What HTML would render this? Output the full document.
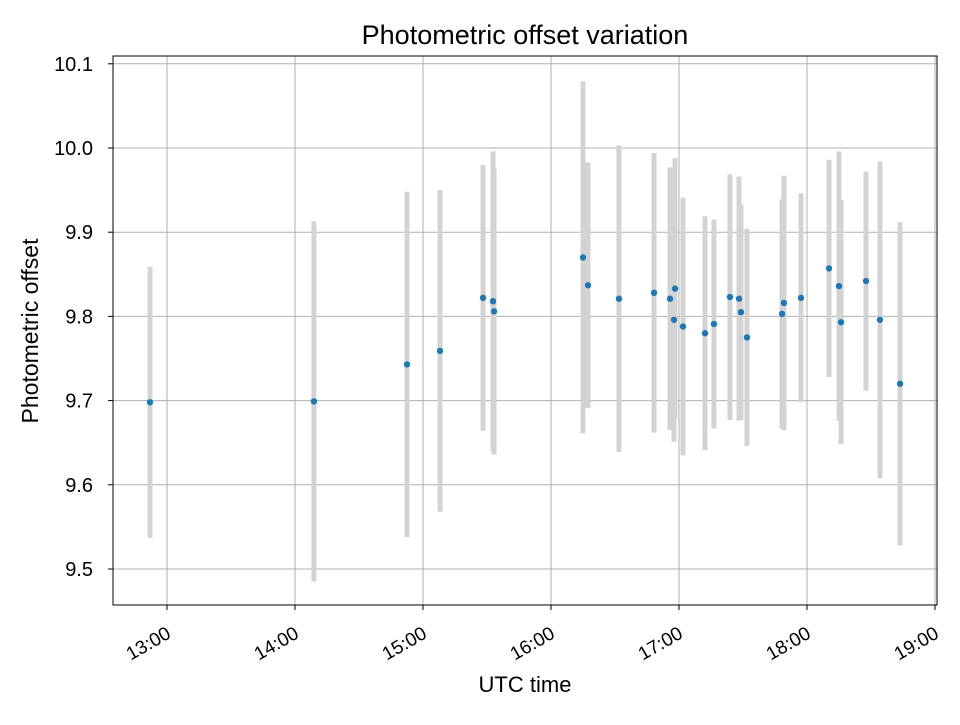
<!DOCTYPE html>
<html><head><meta charset="utf-8"><style>
body{margin:0;background:#fff;}
svg text{font-family:"Liberation Sans","DejaVu Sans",sans-serif;fill:#000;}
</style></head><body>
<svg id="chart" width="960" height="720" viewBox="0 0 960 720" xmlns="http://www.w3.org/2000/svg">
<rect width="960" height="720" fill="#fff"/>
<g id="grid"></g><g id="bars"></g><g id="pts"></g><g id="ticks"></g>
<rect x="113" y="56" width="824" height="549" fill="none" stroke="#000" stroke-width="1"/>
<text x="525" y="44" font-size="27" text-anchor="middle">Photometric offset variation</text>
<text x="525" y="692" font-size="22" text-anchor="middle">UTC time</text>
<text transform="translate(38,331) rotate(-90)" font-size="23" text-anchor="middle">Photometric offset</text>
</svg>
<script>
const times=[12.867,14.148,14.875,15.133,15.469,15.547,15.555,16.250,16.289,16.531,16.805,16.930,16.961,16.969,17.031,17.203,17.273,17.398,17.469,17.484,17.531,17.805,17.820,17.953,18.172,18.250,18.266,18.461,18.570,18.727];
const values=[9.698,9.699,9.743,9.759,9.822,9.818,9.806,9.870,9.837,9.821,9.828,9.821,9.796,9.833,9.788,9.780,9.791,9.823,9.821,9.805,9.775,9.803,9.816,9.822,9.857,9.836,9.793,9.842,9.796,9.720];
const errors=[0.161,0.214,0.205,0.191,0.158,0.178,0.170,0.209,0.146,0.182,0.166,0.156,0.145,0.155,0.153,0.139,0.124,0.146,0.145,0.128,0.129,0.136,0.151,0.124,0.129,0.160,0.145,0.130,0.188,0.192];
const xTicks=[13,14,15,16,17,18,19];
const xTickLabels=["13:00","14:00","15:00","16:00","17:00","18:00","19:00"];
const yTicks=[9.5,9.6,9.7,9.8,9.9,10.0,10.1];
const yTickLabels=["9.5","9.6","9.7","9.8","9.9","10.0","10.1"];
const NS="http://www.w3.org/2000/svg";
const X=t=>167+(t-13)*128;
const Y=v=>148-(v-10)*842;
function mk(tag,attrs,parent){const e=document.createElementNS(NS,tag);for(const k in attrs)e.setAttribute(k,attrs[k]);document.getElementById(parent).appendChild(e);return e;}
xTicks.forEach((t,i)=>{const x=X(t);
 const g=mk('line',{x1:x,x2:x,y1:56,y2:605,stroke:'#b0b0b0','stroke-width':1},'grid');
 
 
 const tk=mk('line',{x1:x,x2:x,y1:605,y2:610,stroke:'#000'},'ticks');
 
 
 const tx=mk('text',{transform:`translate(${x+5},${637}) rotate(-30)`,'font-size':19,'text-anchor':'end'},'ticks');
 tx.textContent=xTickLabels[i];
 
 
});
yTicks.forEach((v,i)=>{const y=Y(v);
 const g=mk('line',{x1:113,x2:937,y1:y,y2:y,stroke:'#b0b0b0','stroke-width':1},'grid');
 
 
 const tk=mk('line',{x1:108,x2:113,y1:y,y2:y,stroke:'#000'},'ticks');
 
 
 const tx=mk('text',{x:93,y:y+7,'font-size':20,'text-anchor':'end'},'ticks');
 tx.textContent=yTickLabels[i];
 
 
});
times.forEach((t,i)=>{const x=X(t);
 const b=mk('line',{x1:x,x2:x,y1:Y(values[i]+errors[i]),y2:Y(values[i]-errors[i]),stroke:'#d3d3d3','stroke-width':5},'bars');
 
 
});
times.forEach((t,i)=>{
 const c=mk('circle',{cx:X(t),cy:Y(values[i]),r:3.2,fill:'#1f77b4'},'pts');
 
 
});
</script>
</body></html>
